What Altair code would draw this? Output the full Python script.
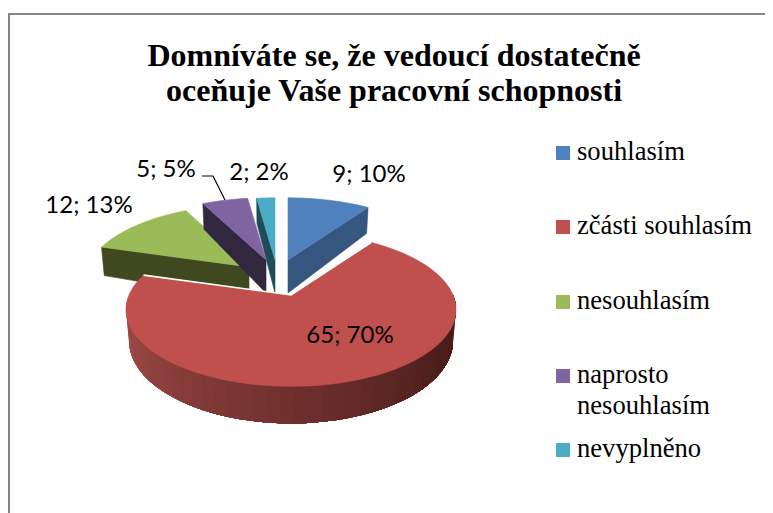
import math
import altair as alt
import pandas as pd

categories = ["souhlasím", "zčásti souhlasím", "nesouhlasím", "naprosto\nnesouhlasím", "nevyplněno"]
counts = [9, 65, 12, 5, 2]
percents = [10, 70, 13, 5, 2]
top_colors = ["#4f81bd", "#c0504d", "#9bbb59", "#8064a2", "#4bacc6"]
wall_colors = ["#35577f", "#7a3230", "#40481f", "#31273f", "#1c4d58"]
title_lines = ["Domníváte se, že vedoucí dostatečně", "oceňuje Vaše pracovní schopnosti"]

# layout, in chart pixels (picture pixels minus the 8px page margin)
OFF = 8
tips = [(288 - OFF, 260 - OFF), (291 - OFF, 295 - OFF), (249 - OFF, 267 - OFF), (266 - OFF, 260 - OFF), (275 - OFF, 260 - OFF)]
label_xy = [(369, 175), (350, 336), (89, 206), (166, 170), (259, 173)]
legend_y = [153, 227, 302, 376, 450]
R, K, P, DEPTH = 162.0, 74.0, 0.19, 30.0
total = sum(counts)


def pt(tip, deg, depth=0.0):
    t = math.radians(deg)
    u, v = math.sin(t), -math.cos(t)
    s = 1 / (1 - P * v)
    shrink = 1 - 0.018 * (depth > 0)
    return [tip[0] + R * u * s * shrink, tip[1] + K * v * s + depth * s]


def feat(ring, fill, stroke=None, sw=0.6):
    return {"type": "Feature",
            "geometry": {"type": "Polygon", "coordinates": [ring + [ring[0]]]},
            "properties": {"fill": fill, "stroke": stroke or fill, "sw": sw}}


def line(points, color, sw):
    return {"type": "Feature",
            "geometry": {"type": "LineString", "coordinates": points},
            "properties": {"fill": "transparent", "stroke": color, "sw": sw}}


def mix(a, b, f):
    return "#" + "".join(f"{round(x + (y - x) * f):02x}" for x, y in zip(a, b))


angles = [0]
for c in counts:
    angles.append(angles[-1] + c / total * 360)

features = []


def wedge(i):
    a0, a1, tip = angles[i], angles[i + 1], tips[i]
    n = max(4, int((a1 - a0) / 2))
    arc = [pt(tip, a0 + (a1 - a0) * k / n) for k in range(n + 1)]
    return [list(tip)] + arc


def radial_wall(i, deg):
    tip = tips[i]
    bottom = [tip[0], tip[1] + DEPTH + 3]
    return feat([list(tip), pt(tip, deg), pt(tip, deg, DEPTH), bottom], wall_colors[i])


# back slices first, the large front slice last
features.append(radial_wall(0, angles[1]))
features.append(feat(wedge(0), top_colors[0]))
features.append(radial_wall(2, angles[2]))
features.append(feat(wedge(2), top_colors[2]))
features.append(radial_wall(3, angles[3]))
features.append(feat(wedge(3), top_colors[3]))
features.append(radial_wall(4, angles[4]))
features.append(feat(wedge(4), top_colors[4]))

# rim of the large slice, shaded from left to right; each band runs on to the
# rim's end and the next one is painted over it, so no seams show
tip = tips[1]
rim_start, rim_end = 268, 90
steps = 44
for k in range(steps):
    d0 = rim_start - (rim_start - rim_end) * k / steps
    f = min(1, k / (steps * 0.8))
    col = mix((168, 78, 75), (74, 29, 27), f)
    n = steps - k
    top = [pt(tip, d0 - (d0 - rim_end) * j / n) for j in range(n + 1)]
    bot = [pt(tip, d0 - (d0 - rim_end) * j / n, DEPTH) for j in range(n + 1)]
    features.append(feat(top + bot[::-1], col, sw=0))
features.append(feat(wedge(1), top_colors[1]))
w = wedge(1)
features.append(line([w[1], w[0], w[-1]], "#ffffff", 1.6))
features.append(line([[202 - OFF, 176 - OFF], [213 - OFF, 176 - OFF], [225 - OFF, 200 - OFF]], "#000000", 1.2))

shapes = (
    alt.Chart(alt.Data(values=features))
    .mark_geoshape()
    .encode(
        fill=alt.Fill("properties.fill:N", scale=None),
        stroke=alt.Stroke("properties.stroke:N", scale=None),
        strokeWidth=alt.StrokeWidth("properties.sw:Q", scale=None),
    )
    .project(type="identity", scale=1, translate=[0, 0])
)

frame = alt.Chart(pd.DataFrame({"a": [0]})).mark_rect(fill="#ffffff", stroke="#868686", strokeWidth=2).encode(
    x=alt.value(1), x2=alt.value(900), y=alt.value(6), y2=alt.value(900)
)

df = pd.DataFrame({
    "cat": categories,
    "label": [f"{c}; {p}%" for c, p in zip(counts, percents)],
    "lx": [p[0] - OFF for p in label_xy],
    "ly": [p[1] - OFF for p in label_xy],
    "ky": [y - OFF for y in legend_y],
    "color": top_colors,
})

labels = alt.Chart(df).mark_text(font="Lato", fontSize=24, color="#000000", align="center", baseline="middle").encode(
    x=alt.X("lx:Q", scale=None), y=alt.Y("ly:Q", scale=None), text="label:N"
)
swatch = alt.Chart(df).mark_square(size=196, opacity=1, filled=True).encode(
    x=alt.value(563 - OFF), y=alt.Y("ky:Q", scale=None), fill=alt.Fill("color:N", scale=None)
)
keytext = alt.Chart(df).mark_text(
    font="Liberation Serif", fontSize=26.6, color="#000000", align="left", baseline="top", lineBreak="\n", lineHeight=31, dy=-14
).encode(x=alt.value(577 - OFF), y=alt.Y("ky:Q", scale=None), text="cat:N")

title = alt.Chart(pd.DataFrame({"t": title_lines, "y": [56 - OFF, 91 - OFF]})).mark_text(
    font="Liberation Serif", fontSize=32, fontWeight="bold", color="#000000", align="center", baseline="middle"
).encode(x=alt.value(394 - OFF), y=alt.Y("y:Q", scale=None), text="t:N")

chart = alt.layer(frame, title, shapes, labels, swatch, keytext).properties(
    width=757, height=505, padding=0, autosize=alt.AutoSizeParams(type="none")
).configure_view(stroke=None)

chart.save("out.html", embed_options={"renderer": "svg", "actions": False})
